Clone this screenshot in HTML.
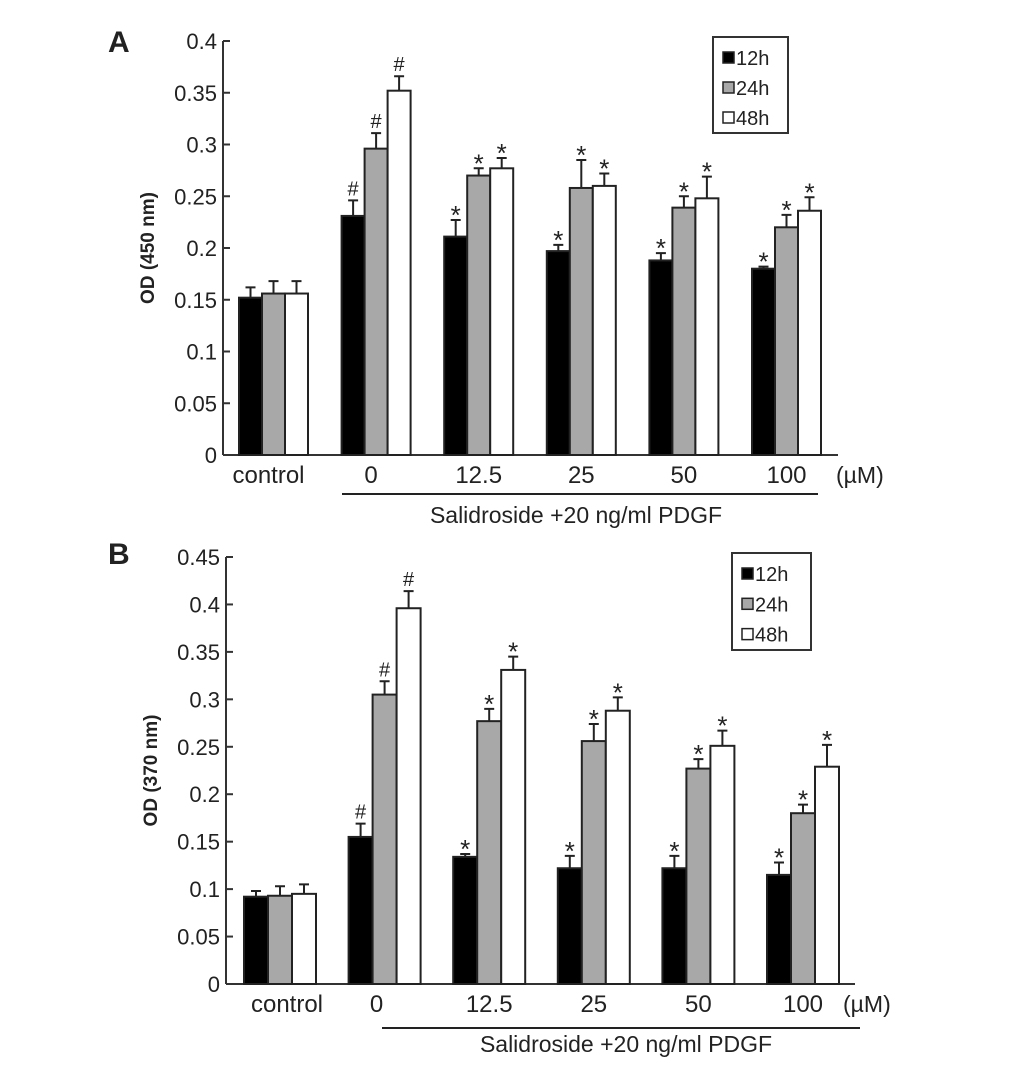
<!DOCTYPE html>
<html><head><meta charset="utf-8"><style>
html,body{margin:0;padding:0;background:#fff;}
svg text{font-family:"Liberation Sans",Arial,sans-serif;fill:#222;}
</style></head><body>
<svg id="svg" width="1033" height="1064" viewBox="0 0 1033 1064" xmlns="http://www.w3.org/2000/svg">
<g id="A"></g>
<g id="B"></g>
</svg>
<script>
const categories = ["control","0","12.5","25","50","100"];
const seriesNames = ["12h","24h","48h"];
const aMean12 = [0.152,0.231,0.211,0.197,0.188,0.180];
const aMean24 = [0.156,0.296,0.270,0.258,0.239,0.220];
const aMean48 = [0.156,0.352,0.277,0.260,0.248,0.236];
const aErr12 = [0.010,0.015,0.016,0.006,0.007,0.002];
const aErr24 = [0.012,0.015,0.007,0.027,0.011,0.012];
const aErr48 = [0.012,0.014,0.010,0.012,0.021,0.013];
const aMarks12 = ["","#","*","*","*","*"];
const aMarks24 = ["","#","*","*","*","*"];
const aMarks48 = ["","#","*","*","*","*"];
const aTicks = ["0","0.05","0.1","0.15","0.2","0.25","0.3","0.35","0.4"];
const bMean12 = [0.092,0.155,0.134,0.122,0.122,0.115];
const bMean24 = [0.093,0.305,0.277,0.256,0.227,0.180];
const bMean48 = [0.095,0.396,0.331,0.288,0.251,0.229];
const bErr12 = [0.006,0.014,0.003,0.013,0.013,0.013];
const bErr24 = [0.010,0.014,0.013,0.018,0.010,0.009];
const bErr48 = [0.010,0.018,0.014,0.014,0.016,0.023];
const bMarks12 = ["","#","*","*","*","*"];
const bMarks24 = ["","#","*","*","*","*"];
const bMarks48 = ["","#","*","*","*","*"];
const bTicks = ["0","0.05","0.1","0.15","0.2","0.25","0.3","0.35","0.4","0.45"];

const NS="http://www.w3.org/2000/svg";
function mk(parent,tag,attrs,text){const e=document.createElementNS(NS,tag);for(const k in attrs)e.setAttribute(k,attrs[k]);if(text!==undefined)e.textContent=text;parent.appendChild(e);return e;}

function panel(g,cfg){
  const {means,errs,marks,ticks,ymax,x0,xEnd,yTop,yBase,gStart,gStep,bw,letter,title,legend,under,unitX,subX,subY,labShift} = cfg;
  const y=v=>yBase-(v/ymax)*(yBase-yTop);
  const fills=["#000","#a8a8a8","#fff"];
  let t=mk(g,"text",{x:108,y:cfg.letterY,"font-size":30,"font-weight":"bold","font-family":"Liberation Serif"},letter);
  
  
  let ax=mk(g,"line",{x1:x0,y1:yTop,x2:x0,y2:yBase,stroke:"#333","stroke-width":2});
  
  
  let xa=mk(g,"line",{x1:x0,y1:yBase,x2:xEnd,y2:yBase,stroke:"#333","stroke-width":2});
  
  
  ticks.forEach(tk=>{
    const v=parseFloat(tk), yy=y(v);
    let l=mk(g,"line",{x1:x0,y1:yy,x2:x0+7,y2:yy,stroke:"#333","stroke-width":2});
    
    
    let tl=mk(g,"text",{x:x0-6,y:yy+8,"font-size":22,"text-anchor":"end"},tk);
    
    
  });
  let yt=mk(g,"text",{x:0,y:0,"font-size":19,"font-weight":"bold","text-anchor":"middle",transform:`translate(${cfg.titleX},${(yTop+yBase)/2}) rotate(-90)`},title);
  
  
  categories.forEach((c,i)=>{
    const gx=gStart+i*gStep;
    for(let s=0;s<3;s++){
      const bx=gx+s*bw, v=means[s][i], e=errs[s][i], cx=bx+bw/2;
      let r=mk(g,"rect",{x:bx,y:y(v),width:bw,height:yBase-y(v),fill:fills[s],stroke:"#222","stroke-width":2});
      
      
      let eb=mk(g,"path",{d:`M${cx},${y(v)}V${y(v+e)}M${cx-5},${y(v+e)}H${cx+5}`,stroke:"#222","stroke-width":2,fill:"none"});
      
      
      if(marks[s][i]){
        const m=marks[s][i];
        let mt=mk(g,"text",{x:cx,y:y(v+e)-(m=="*"?-4:5),"font-size":m=="*"?26:20,"text-anchor":"middle"},m);
        
        
      }
    }
    let cl=mk(g,"text",{x:gx+1.5*bw+labShift[i],y:yBase+28,"font-size":24,"text-anchor":"middle"},c);
    
    
  });
  let u=mk(g,"text",{x:unitX,y:yBase+28,"font-size":23},"(µM)");
  
  
  let ul=mk(g,"line",{x1:under[0],y1:under[2],x2:under[1],y2:under[2],stroke:"#222","stroke-width":2});
  
  
  let st=mk(g,"text",{x:subX,y:subY,"font-size":23,"text-anchor":"middle"},"Salidroside +20  ng/ml PDGF");
  
  
  const [lx,ly,lw,lh]=legend;
  let lb=mk(g,"rect",{x:lx,y:ly,width:lw,height:lh,fill:"#fff",stroke:"#333","stroke-width":2});
  
  
  seriesNames.forEach((n,s)=>{
    const ry=ly+10+s*lh/3.2;
    let sw=mk(g,"rect",{x:lx+10,y:ry+5,width:11,height:11,fill:fills[s],stroke:"#222","stroke-width":1.5});
    
    
    let lt=mk(g,"text",{x:lx+23,y:ry+18,"font-size":20},n);
    
    
  });
}
panel(document.getElementById("A"),{
  means:[aMean12,aMean24,aMean48],errs:[aErr12,aErr24,aErr48],marks:[aMarks12,aMarks24,aMarks48],
  ticks:aTicks,ymax:0.4,x0:223,xEnd:838,yTop:41,yBase:455,gStart:239,gStep:102.6,bw:23,
  letter:"A",letterY:52,title:"OD (450 nm)",titleX:154,legend:[713,37,75,96],
  under:[342,818,494],unitX:836,subX:576,subY:523,labShift:[-5,-5,0,0,0,0]
});
panel(document.getElementById("B"),{
  means:[bMean12,bMean24,bMean48],errs:[bErr12,bErr24,bErr48],marks:[bMarks12,bMarks24,bMarks48],
  ticks:bTicks,ymax:0.45,x0:226,xEnd:855,yTop:557,yBase:984,gStart:244,gStep:104.6,bw:24,
  letter:"B",letterY:564,title:"OD (370 nm)",titleX:157,legend:[732,553,79,97],
  under:[382,860,1028],unitX:843,subX:626,subY:1052,labShift:[7,-8,0,0,0,0]
});
</script>
</body></html>
